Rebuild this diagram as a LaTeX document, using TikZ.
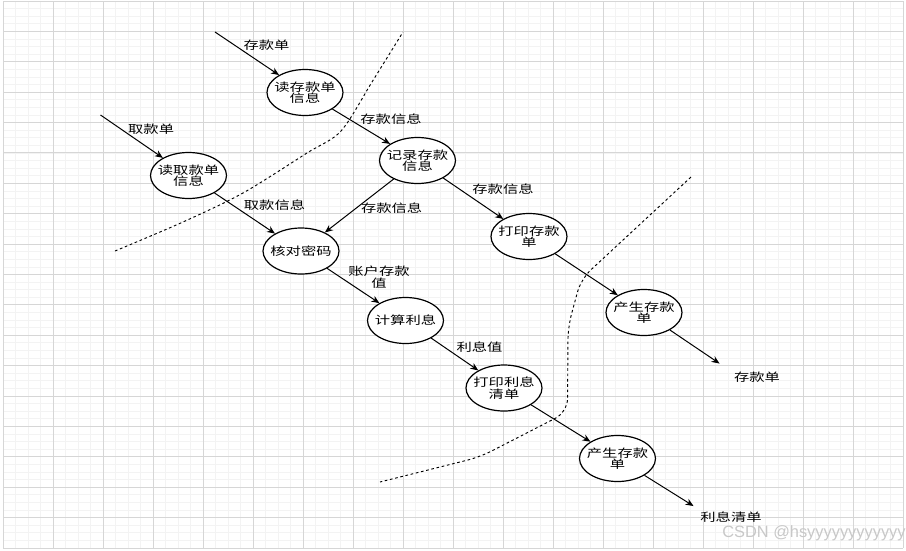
\documentclass[tikz,border=0pt]{standalone}
\usepackage{fontspec}
\usepackage{tikz}
\usetikzlibrary{arrows.meta,shapes.geometric}
\setmainfont{Liberation Sans}
\newfontfamily\cjk[FakeStretch=1.35]{Noto Sans CJK SC}
\definecolor{rejilla}{RGB}{214,214,214}
\definecolor{rejillafina}{RGB}{243,243,243}
\definecolor{marca}{RGB}{200,200,200}

\begin{document}
\begin{tikzpicture}[x=0.75pt,y=-0.75pt,
proceso/.style={draw,ellipse,line width=0.9pt,fill=white,minimum width=57pt,minimum height=34.5pt,inner xsep=-8pt,inner ysep=0pt,align=center,font=\cjk\fontsize{8.5}{8.5}\selectfont},
flujo/.style={-{Stealth[length=6pt,width=5pt]},line width=0.75pt},
lbl/.style={font=\cjk\fontsize{8.5}{8.5}\selectfont,inner sep=1pt,align=center},
frontera/.style={dash pattern=on 2pt off 2pt,line width=0.7pt}
]
\useasboundingbox (0,0) rectangle (906,550);
\fill[white] (0,0) rectangle (906,550);
% rejilla de fondo
\foreach \i in {0,...,72} \draw[rejillafina,line width=0.6pt] ({3+12.5*\i},1) -- ({3+12.5*\i},548);
\foreach \j in {0,...,72} \draw[rejillafina,line width=0.6pt] (3,{1+547/72*\j}) -- (903,{1+547/72*\j});
\foreach \i in {0,...,18} \draw[rejilla,line width=0.75pt] ({3+50*\i},1) -- ({3+50*\i},548);
\foreach \j in {0,...,18} \draw[rejilla,line width=0.75pt] (3,{1+547/18*\j}) -- (903,{1+547/18*\j});

% fronteras
\draw[frontera] plot[smooth,tension=0.5] coordinates {(115,251) (183,222) (243,193) (307,153) (341,131) (372,82) (403,32)};
\draw[frontera,rounded corners=10pt] (691,177) -- (581,279) -- (568,327) -- (567.5,412) -- (480,457) -- (380,482);

% procesos
\node[proceso] (leerdep) at (305,92.5) {读存款单\\信息};
\node[proceso] (leerret) at (188.5,175.5) {读取款单\\信息};
\node[proceso] (registro) at (417.5,160.5) {记录存款\\信息};
\node[proceso] (verif) at (301,251) {核对密码};
\node[proceso] (impdep) at (529,236.5) {打印存款\\单};
\node[proceso] (calc) at (405.5,320.5) {计算利息};
\node[proceso] (gendep) at (644,312.5) {产生存款\\单};
\node[proceso] (impint) at (504,388) {打印利息\\清单};
\node[proceso] (genint) at (617.5,458.5) {产生存款\\单};

\coordinate (entdep) at (215,32);
\coordinate (entret) at (100.5,115);
\coordinate (saldep) at (719.5,363.5);
\coordinate (salint) at (693.5,506);

\draw[flujo] (entdep) -- (leerdep) node[lbl,midway,anchor=south west,xshift=-4pt,yshift=1pt] (e1) {存款单};
\draw[flujo] (entret) -- (leerret) node[lbl,midway,anchor=south west,xshift=-4pt] (e2) {取款单};
\draw[flujo] (leerdep) -- (registro) node[lbl,midway,anchor=south west,xshift=-2pt] (e3) {存款信息};
\draw[flujo] (leerret) -- (verif) node[lbl,midway,anchor=south west,xshift=-2pt,yshift=1pt] (e4) {取款信息};
\draw[flujo] (registro) -- (verif) node[lbl,midway,anchor=west,yshift=-2pt] (e5) {存款信息};
\draw[flujo] (registro) -- (impdep) node[lbl,midway,anchor=south west,xshift=-2pt,yshift=2pt] (e6) {存款信息};
\draw[flujo] (verif) -- (calc) node[lbl,midway,anchor=south west,xshift=-5pt,yshift=-3pt] (e7) {账户存款\\值};
\draw[flujo] (calc) -- (impint) node[lbl,midway,anchor=south west] (e8) {利息值};
\draw[flujo] (impdep) -- (gendep);
\draw[flujo] (impint) -- (genint);
\draw[flujo] (gendep) -- (saldep);
\draw[flujo] (genint) -- (salint);
\node[lbl] (tdep) at (757,377) {存款单};
\node[lbl] (tint) at (731,517) {利息清单};

\node[text=marca,font=\fontsize{12.3}{12.3}\selectfont,anchor=base west,inner sep=0pt] (marca) at (722,537.5) {CSDN @hsyyyyyyyyyyyy};
\end{tikzpicture}
\end{document}
